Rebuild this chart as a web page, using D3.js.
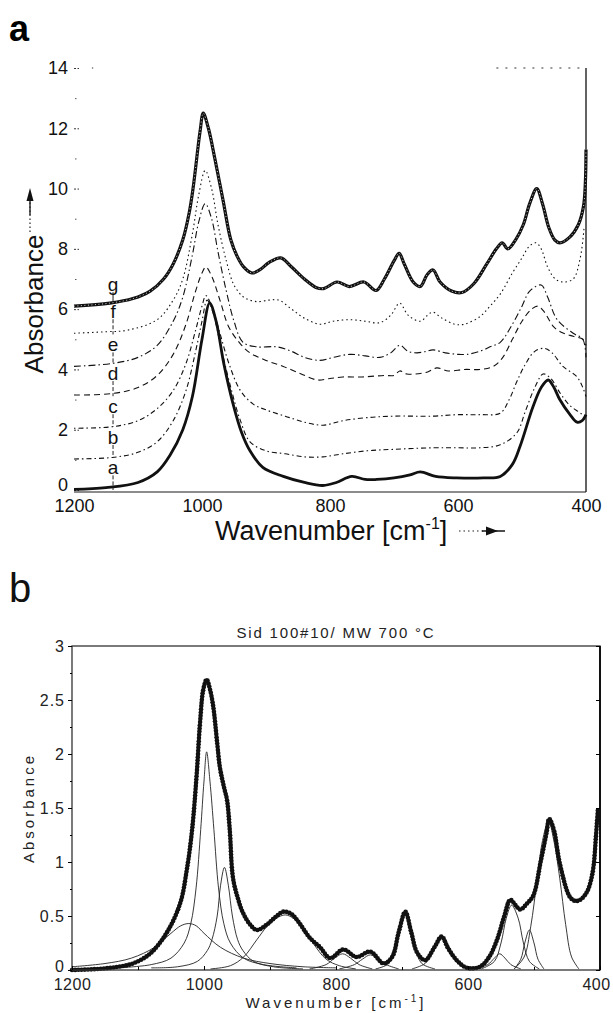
<!DOCTYPE html>
<html>
<head>
<meta charset="utf-8">
<script src="https://cdn.jsdelivr.net/npm/d3@7"></script>
<style>
  body { margin: 0; background: #fff; }
  svg { display: block; font-family: "Liberation Sans", Arial, sans-serif; }
</style>
</head>
<body>
<svg id="chart" width="613" height="1013"></svg>
<script>
// ---- data ----
const wnTicks = [1200, 1000, 800, 600, 400];
const wnMinor = [1100, 900, 700, 500];
const absTicksA = [0, 2, 4, 6, 8, 10, 12, 14];
const absMinorA = [1, 3, 5, 7, 9, 11, 13];
const absTicksB = [0, 0.5, 1, 1.5, 2, 2.5, 3];
const absMinorB = [0.25, 0.75, 1.25, 1.75, 2.25, 2.75];
const traceNames = ["a", "b", "c", "d", "e", "f", "g"];

// panel a, [wavenumber, absorbance]
const traceA = [[1200,0.02],[1150,0.08],[1100,0.25],[1070,0.6],[1050,1.15],[1030,2.0],[1015,3.1],[1000,5.0],[988,6.2],[978,5.6],[966,4.2],[952,2.9],[938,1.9],[925,1.3],[905,0.75],[873,0.45],[840,0.25],[811,0.15],[790,0.25],[766,0.45],[745,0.35],[727,0.35],[700,0.4],[675,0.5],[659,0.6],[635,0.45],[602,0.4],[560,0.4],[534,0.45],[515,0.85],[503,1.45],[483,2.75],[470,3.4],[459,3.65],[450,3.4],[441,3.0],[425,2.5],[414,2.25],[406,2.3],[400,2.5]];
const traceB = [[1200,1.03],[1140,1.08],[1100,1.25],[1070,1.6],[1045,2.3],[1025,3.3],[1010,4.6],[1000,5.6],[992,6.3],[983,5.9],[970,4.7],[955,3.4],[940,2.3],[925,1.6],[900,1.3],[870,1.2],[840,1.1],[811,1.1],[780,1.2],[742,1.3],[700,1.35],[639,1.4],[600,1.4],[566,1.4],[534,1.5],[508,1.9],[495,2.6],[480,3.4],[467,3.85],[455,3.7],[440,3.2],[425,2.8],[412,2.6],[405,2.5],[400,2.45]];
const traceC = [[1200,2.05],[1140,2.1],[1100,2.3],[1070,2.7],[1045,3.3],[1025,4.2],[1010,5.3],[1000,6.1],[994,6.45],[985,6.1],[972,5.2],[958,4.2],[940,3.3],[920,2.85],[899,2.65],[870,2.45],[840,2.25],[811,2.15],[780,2.3],[742,2.4],[700,2.45],[639,2.45],[600,2.5],[566,2.5],[534,2.55],[520,3.0],[508,3.6],[494,4.2],[480,4.6],[465,4.7],[453,4.55],[436,4.1],[414,3.75],[405,3.4],[400,3.1]];
const traceD = [[1200,3.15],[1140,3.2],[1100,3.4],[1070,3.8],[1045,4.5],[1025,5.5],[1010,6.6],[1000,7.2],[994,7.4],[985,7.1],[972,6.3],[958,5.4],[940,4.85],[925,4.55],[900,4.3],[873,4.1],[845,3.85],[820,3.65],[800,3.7],[780,3.75],[750,3.75],[715,3.8],[700,3.8],[691,3.95],[680,3.85],[650,3.9],[633,4.05],[615,3.95],[590,4.0],[566,4.0],[545,4.1],[530,4.4],[515,5.0],[500,5.6],[485,6.0],[475,6.1],[465,5.9],[450,5.4],[435,5.2],[420,5.1],[405,5.0],[400,4.8]];
const traceE = [[1200,4.1],[1140,4.2],[1100,4.4],[1070,4.8],[1045,5.6],[1030,6.4],[1015,7.8],[1005,8.9],[995,9.5],[985,9.0],[975,7.9],[962,6.6],[950,5.6],[936,4.9],[915,4.75],[883,4.75],[860,4.6],[840,4.4],[816,4.3],[795,4.4],[769,4.5],[745,4.45],[722,4.4],[705,4.55],[691,4.8],[678,4.6],[664,4.55],[650,4.6],[639,4.65],[620,4.55],[600,4.5],[586,4.5],[566,4.6],[550,4.75],[534,4.9],[515,5.5],[500,6.1],[488,6.6],[470,6.8],[460,6.4],[445,5.65],[420,5.2],[405,5.0],[400,4.4]];
const traceF = [[1200,5.2],[1150,5.25],[1117,5.3],[1070,5.65],[1045,6.3],[1030,7.0],[1015,8.5],[1005,9.8],[995,10.6],[985,10.0],[975,8.8],[962,7.6],[950,6.8],[935,6.4],[915,6.25],[895,6.3],[880,6.3],[860,6.0],[840,5.7],[816,5.5],[795,5.6],[769,5.65],[745,5.6],[722,5.55],[705,5.8],[691,6.2],[678,5.8],[659,5.6],[645,5.85],[639,5.9],[625,5.7],[605,5.5],[590,5.5],[566,5.75],[550,6.1],[534,6.5],[515,7.2],[500,7.7],[488,8.1],[478,8.2],[470,8.0],[460,7.4],[448,7.0],[436,6.9],[420,7.0],[409,7.7],[403,8.7]];
const traceG = [[1200,6.1],[1144,6.2],[1108,6.35],[1081,6.6],[1060,7.0],[1045,7.5],[1030,8.3],[1020,9.2],[1014,10.0],[1003,11.9],[998,12.5],[990,12.0],[980,11.0],[967,9.6],[955,8.3],[945,7.75],[935,7.4],[922,7.2],[910,7.3],[895,7.55],[877,7.7],[860,7.4],[840,7.0],[822,6.72],[810,6.68],[789,6.9],[770,6.75],[747,6.9],[728,6.62],[715,7.0],[700,7.6],[692,7.85],[684,7.5],[670,6.9],[659,6.75],[648,7.15],[639,7.3],[628,6.9],[610,6.6],[594,6.55],[575,6.85],[555,7.5],[540,8.0],[531,8.2],[522,8.0],[510,8.3],[498,8.8],[488,9.5],[477,10.0],[468,9.5],[458,8.7],[449,8.3],[441,8.2],[425,8.4],[412,8.8],[404,9.4],[401,10.2],[400,11.3]];

// panel b, measured band and fitted components
const bandSum = [[1200,0.0],[1160,0.01],[1130,0.03],[1108,0.06],[1082,0.15],[1056,0.35],[1036,0.62],[1026,0.93],[1018,1.3],[1011,1.82],[1006,2.29],[1001,2.6],[996,2.69],[991,2.6],[986,2.44],[980,2.1],[976,1.88],[970,1.7],[965,1.57],[961,1.3],[956,0.85],[948,0.65],[941,0.53],[930,0.42],[920,0.37],[905,0.42],[890,0.5],[880,0.54],[868,0.52],[855,0.43],[840,0.3],[824,0.21],[809,0.11],[789,0.19],[769,0.12],[748,0.17],[728,0.06],[715,0.12],[705,0.35],[695,0.54],[686,0.35],[677,0.16],[665,0.09],[650,0.22],[640,0.31],[630,0.2],[617,0.09],[602,0.02],[582,0.03],[568,0.12],[556,0.28],[545,0.5],[536,0.65],[528,0.6],[521,0.56],[510,0.62],[501,0.69],[490,1.0],[481,1.27],[477,1.4],[470,1.3],[461,0.99],[446,0.68],[438,0.64],[430,0.65],[420,0.72],[415,0.8],[410,0.95],[406,1.25],[403,1.5]];
const comp1 = [[1200,0.03],[1150,0.06],[1110,0.11],[1075,0.21],[1050,0.34],[1035,0.41],[1023,0.43],[1012,0.41],[1000,0.34],[975,0.21],[940,0.11],[900,0.06],[850,0.03],[800,0.02]];
const comp2 = [[1130,0.02],[1080,0.05],[1050,0.11],[1030,0.25],[1020,0.43],[1012,0.76],[1005,1.3],[1000,1.75],[996,2.02],[991,1.75],[985,1.3],[978,0.76],[970,0.43],[960,0.25],[940,0.11],[910,0.05],[860,0.02]];
const comp3 = [[1080,0.02],[1040,0.03],[1010,0.08],[995,0.18],[988,0.28],[980,0.5],[975,0.78],[969,0.95],[963,0.78],[957,0.5],[949,0.28],[941,0.18],[925,0.08],[895,0.03],[850,0.01]];
const comp4 = [[990,0.01],[960,0.04],[940,0.12],[920,0.28],[905,0.4],[890,0.48],[877,0.51],[865,0.48],[850,0.38],[835,0.25],[815,0.1],[795,0.04],[770,0.01]];
const comp5 = [[840,0.01],[815,0.05],[802,0.11],[790,0.15],[778,0.11],[765,0.05],[745,0.01]];
const comp6 = [[795,0.01],[772,0.05],[760,0.1],[748,0.14],[736,0.1],[724,0.05],[705,0.01]];
const comp7 = [[740,0.01],[720,0.06],[710,0.2],[703,0.4],[695,0.53],[687,0.4],[680,0.2],[670,0.06],[650,0.01]];
const comp8 = [[685,0.01],[665,0.06],[655,0.15],[648,0.25],[640,0.3],[632,0.25],[625,0.15],[615,0.06],[595,0.01]];
const comp9 = [[590,0.01],[570,0.05],[560,0.11],[552,0.15],[544,0.11],[535,0.05],[520,0.01]];
const comp10 = [[580,0.01],[560,0.08],[550,0.25],[542,0.48],[534,0.6],[524,0.48],[516,0.25],[507,0.08],[492,0.01]];
const comp11 = [[530,0.01],[520,0.1],[514,0.25],[507,0.37],[500,0.25],[494,0.1],[485,0.01]];
const comp12 = [[530,0.01],[515,0.12],[505,0.4],[495,0.85],[487,1.2],[478,1.38],[470,1.2],[461,0.85],[452,0.42],[443,0.12],[432,0.01]];

const traces = [traceA, traceB, traceC, traceD, traceE, traceF, traceG];
const components = [comp1, comp2, comp3, comp4, comp5, comp6, comp7, comp8, comp9, comp10, comp11, comp12];

// ---- drawing ----
const svg = d3.select("#chart");
const font = "'Liberation Sans', Arial, sans-serif";
const plain = d3.format("");

const makeLine = (x, y) => d3.line()
    .x(d => x(d[0]))
    .y(d => y(d[1]))
    .curve(d3.curveCatmullRom.alpha(0.5));

/* ---------- panel a ---------- */
const xA = d3.scaleLinear().domain([1200, 400]).range([74, 586]);
const yA = d3.scaleLinear().domain([0, 14]).range([490, 68]);
const lineA = makeLine(xA, yA);
const gA = svg.append("g");

svg.append("text").attr("x", 9).attr("y", 41)
    .attr("font-size", 36).attr("font-weight", "bold").text("a");

// frame: solid bottom + right, broken top
gA.append("line").attr("x1", xA(1200)).attr("x2", xA(400))
    .attr("y1", yA(0) + 2).attr("y2", yA(0) + 2)
    .attr("stroke", "#666").attr("stroke-width", 1.6);
gA.append("line").attr("x1", xA(400)).attr("x2", xA(400))
    .attr("y1", yA(14)).attr("y2", yA(0) + 2)
    .attr("stroke", "#222").attr("stroke-width", 1.4);
gA.append("line").attr("x1", xA(540)).attr("x2", xA(400))
    .attr("y1", yA(14)).attr("y2", yA(14))
    .attr("stroke", "#333").attr("stroke-width", 1).attr("stroke-dasharray", "2,7");
gA.append("line").attr("x1", xA(1172)).attr("x2", xA(1170))
    .attr("y1", yA(14)).attr("y2", yA(14))
    .attr("stroke", "#333").attr("stroke-width", 1);

// left ticks (inward) with labels
const axA = gA.append("g").attr("transform", `translate(${xA(1200)},0)`)
    .call(d3.axisLeft(yA).tickValues(absTicksA).tickSizeInner(-5).tickSizeOuter(0).tickPadding(6).tickFormat(plain));
axA.select(".domain").remove();
axA.selectAll("text").attr("font-size", 18).attr("font-family", font).attr("fill", "#111");
axA.selectAll(".tick").filter(d => d === 0).select("text").attr("dy", "0em");
axA.selectAll("line").attr("stroke", "#333").attr("stroke-dasharray", "2,1.5");
const axAm = gA.append("g").attr("transform", `translate(${xA(1200)},0)`)
    .call(d3.axisLeft(yA).tickValues(absMinorA).tickSizeInner(-1.5).tickSizeOuter(0).tickFormat(""));
axAm.select(".domain").remove();
axAm.selectAll("line").attr("stroke", "#555").attr("transform", "translate(1,0)");

const axAb = gA.append("g").attr("transform", `translate(0,${yA(0) + 2})`)
    .call(d3.axisBottom(xA).tickValues(wnTicks).tickSize(0).tickPadding(7).tickFormat(plain));
axAb.select(".domain").remove();
axAb.selectAll("text").attr("font-size", 18).attr("font-family", font).attr("fill", "#111");

// traces
const traceStyles = [
    { w: 2.8, dash: null },
    { w: 1.1, dash: "5,3,1.5,3" },
    { w: 1.1, dash: "1.5,3,5,3" },
    { w: 1.1, dash: "6,4" },
    { w: 1.1, dash: "7,3,1.5,3" },
    { w: 1.1, dash: "1.5,3" },
    { w: 3.2, dash: null }
];
traces.forEach((t, i) => {
    gA.append("path").attr("d", lineA(t)).attr("fill", "none")
        .attr("stroke", "#111").attr("stroke-width", traceStyles[i].w)
        .attr("stroke-linejoin", "round")
        .attr("stroke-dasharray", traceStyles[i].dash);
});
// little open-marker texture on g
gA.append("path").attr("d", lineA(traceG)).attr("fill", "none")
    .attr("stroke", "#fff").attr("stroke-width", 0.8).attr("stroke-dasharray", "1,2.5");

// trace letters with connecting vertical tick line
const labelWn = 1139;
const labelY = traces.map(t => yA(t[0][1]) - 22);
traceNames.forEach((n, i) => {
    const yTop = labelY[i] + 8;
    const yBot = i > 0 ? labelY[i - 1] - 10 : yA(0);
    gA.append("line").attr("x1", xA(labelWn)).attr("x2", xA(labelWn))
        .attr("y1", yTop).attr("y2", yBot)
        .attr("stroke", "#222").attr("stroke-width", 1)
        .attr("stroke-dasharray", i === 6 ? null : "4,2");
    gA.append("text").attr("x", xA(labelWn)).attr("y", labelY[i])
        .attr("dy", "0.35em").attr("text-anchor", "middle")
        .attr("font-size", 19).attr("fill", "#111").text(n);
});

// axis titles with arrows
svg.append("text").attr("transform", `translate(43,304) rotate(-90)`)
    .attr("text-anchor", "middle").attr("font-size", 26).attr("fill", "#111")
    .text("Absorbance");
svg.append("line").attr("x1", 30).attr("x2", 30).attr("y1", 232).attr("y2", 198)
    .attr("stroke", "#222").attr("stroke-width", 1.2).attr("stroke-dasharray", "1.5,2.5");
svg.append("line").attr("x1", 30).attr("x2", 30).attr("y1", 215).attr("y2", 198)
    .attr("stroke", "#222").attr("stroke-width", 1.4);
svg.append("path").attr("d", "M30,188 L26.5,201 L33.5,201 Z").attr("fill", "#111");

const xt = svg.append("text").attr("x", 215).attr("y", 540)
    .attr("font-size", 27).attr("fill", "#111");
xt.append("tspan").text("Wavenumber [cm");
xt.append("tspan").attr("font-size", 16).attr("dy", -11).text("-1");
xt.append("tspan").attr("dy", 11).text("]");
svg.append("line").attr("x1", 459).attr("x2", 484).attr("y1", 531).attr("y2", 531)
    .attr("stroke", "#222").attr("stroke-width", 1.2).attr("stroke-dasharray", "1.5,3");
svg.append("line").attr("x1", 482).attr("x2", 505).attr("y1", 531).attr("y2", 531)
    .attr("stroke", "#222").attr("stroke-width", 1.6);
svg.append("path").attr("d", "M498,531 L486,526.5 L486,535.5 Z").attr("fill", "#111");

/* ---------- panel b ---------- */
const xB = d3.scaleLinear().domain([1200, 400]).range([72, 600]);
const yB = d3.scaleLinear().domain([0, 3]).range([970, 646]);
const lineB = makeLine(xB, yB);
const gB = svg.append("g");

svg.append("text").attr("x", 9).attr("y", 602)
    .attr("font-size", 40).attr("fill", "#111").text("b");

svg.append("text").attr("x", 336).attr("y", 638).attr("text-anchor", "middle")
    .attr("font-size", 15).attr("letter-spacing", 1.8).attr("fill", "#222")
    .text("Sid 100#10/ MW 700 °C");

// components (thin) then the measured band (thick with dots)
components.forEach(c => {
    gB.append("path").attr("d", lineB(c)).attr("fill", "none")
        .attr("stroke", "#222").attr("stroke-width", 0.9);
});
const sumPath = gB.append("path").attr("d", lineB(bandSum)).attr("fill", "none")
    .attr("stroke", "#111").attr("stroke-width", 2.4);
const node = sumPath.node();
const total = node.getTotalLength();
const marks = d3.range(0, total, 3.2).map(l => node.getPointAtLength(l));
gB.append("g").selectAll("circle").data(marks).join("circle")
    .attr("cx", d => d.x).attr("cy", d => d.y).attr("r", 2.3).attr("fill", "#111");

// frame
gB.append("rect").attr("x", xB(1200)).attr("y", yB(3))
    .attr("width", xB(400) - xB(1200)).attr("height", yB(0) - yB(3))
    .attr("fill", "none").attr("stroke", "#333").attr("stroke-width", 1.3);
gB.append("line").attr("x1", xB(400)).attr("x2", xB(400))
    .attr("y1", yB(3)).attr("y2", yB(0))
    .attr("stroke", "#111").attr("stroke-width", 2);

const axBl = gB.append("g").attr("transform", `translate(${xB(1200)},0)`)
    .call(d3.axisLeft(yB).tickValues(absTicksB).tickSize(4).tickPadding(3).tickFormat(plain));
axBl.select(".domain").remove();
axBl.selectAll("text").attr("font-size", 16).attr("letter-spacing", 1).attr("font-family", font).attr("fill", "#222");
axBl.selectAll(".tick").filter(d => d === 0).select("text").attr("dy", "0.1em");
gB.append("g").attr("transform", `translate(${xB(1200)},0)`)
    .call(d3.axisLeft(yB).tickValues(absMinorB).tickSize(2).tickFormat(""))
    .select(".domain").remove();

gB.append("g").attr("transform", `translate(${xB(400)},0)`)
    .call(d3.axisRight(yB).tickValues(absTicksB).tickSize(-4).tickFormat(""))
    .select(".domain").remove();

const axBb = gB.append("g").attr("transform", `translate(0,${yB(0)})`)
    .call(d3.axisBottom(xB).tickValues(wnTicks).tickSize(-4).tickPadding(9).tickFormat(plain));
axBb.select(".domain").remove();
axBb.selectAll("text").attr("font-size", 16).attr("letter-spacing", 0.5).attr("font-family", font).attr("fill", "#222");
axBb.selectAll(".tick").filter(d => d === 400).select("text").attr("dx", "-4");
gB.append("g").attr("transform", `translate(0,${yB(0)})`)
    .call(d3.axisBottom(xB).tickValues(wnMinor).tickSize(-3).tickFormat(""))
    .select(".domain").remove();

svg.append("text").attr("transform", `translate(34,808) rotate(-90)`)
    .attr("text-anchor", "middle").attr("font-size", 15).attr("letter-spacing", 3)
    .attr("fill", "#222").text("Absorbance");

const xtb = svg.append("text").attr("x", 336).attr("y", 1008).attr("text-anchor", "middle")
    .attr("font-size", 15).attr("letter-spacing", 3).attr("fill", "#222");
xtb.append("tspan").text("Wavenumber [cm");
xtb.append("tspan").attr("font-size", 10).attr("dy", -6).text("-1");
xtb.append("tspan").attr("dy", 6).text("]");
</script>
</body>
</html>
